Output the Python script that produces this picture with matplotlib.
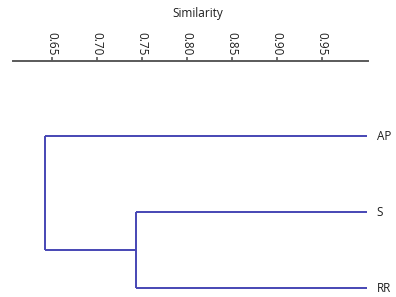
import matplotlib.pyplot as plt

# Dendrogram data (similarity scale)
leaves = ['AP', 'S', 'RR']
leaf_sim = 1.0
join_s_rr = 0.743     # S joins RR
join_root = 0.642     # AP joins (S, RR)
ticks = [0.65, 0.70, 0.75, 0.80, 0.85, 0.90, 0.95]

W, H = 396, 297
fig = plt.figure(figsize=(W / 100, H / 100), dpi=100)
plt.rcParams['font.family'] = ['Open Sans', 'DejaVu Sans']

x0, x1 = 13 / W, 368 / W
xlim = (0.6067, 1.001)
col = '#4646b4'
txt = '#1e1e1e'

# Scale axis at the top
axy = 1 - 61 / H
ax_top = fig.add_axes([x0, axy, x1 - x0, 0.001])
ax_top.set_xlim(*xlim)
for s in ['left', 'right', 'bottom']:
    ax_top.spines[s].set_visible(False)
ax_top.spines['top'].set_color('#5a5a5a')
ax_top.spines['top'].set_linewidth(1.4)
ax_top.set_yticks([])
ax_top.set_xticks(ticks)
ax_top.set_xticklabels(['%.2f' % t for t in ticks], rotation=270, fontsize=8.5, color=txt)
ax_top.tick_params(axis='x', top=True, bottom=False, labeltop=True, labelbottom=False,
                   direction='out', length=3, width=1.2, color='#5a5a5a', pad=1)
ax_top.patch.set_visible(False)
fig.text(0.5, 1 - 14 / H, 'Similarity', ha='center', va='center', fontsize=8.5, color=txt)

# Dendrogram
ax = fig.add_axes([x0, 0, x1 - x0, 1 - 100 / H])
ax.set_xlim(*xlim)
ax.set_ylim(2 + 9 / 76, -36 / 76)
ax.axis('off')

i_ap, i_s, i_rr = 0, 1, 2
mid = (i_s + i_rr) / 2
kw = dict(color=col, lw=1.4, solid_capstyle='butt')
ax.plot([leaf_sim, join_s_rr], [i_s, i_s], **kw)
ax.plot([leaf_sim, join_s_rr], [i_rr, i_rr], **kw)
ax.plot([join_s_rr, join_s_rr], [i_s, i_rr], **kw)
ax.plot([join_s_rr, join_root], [mid, mid], **kw)
ax.plot([leaf_sim, join_root], [i_ap, i_ap], **kw)
ax.plot([join_root, join_root], [i_ap, mid], **kw)

for i, name in enumerate(leaves):
    ax.annotate(name, xy=(leaf_sim, i), xytext=(7, 0), textcoords='offset points',
                ha='left', va='center', fontsize=8.5, color=txt, annotation_clip=False)

fig.savefig('out.png', dpi=100)
